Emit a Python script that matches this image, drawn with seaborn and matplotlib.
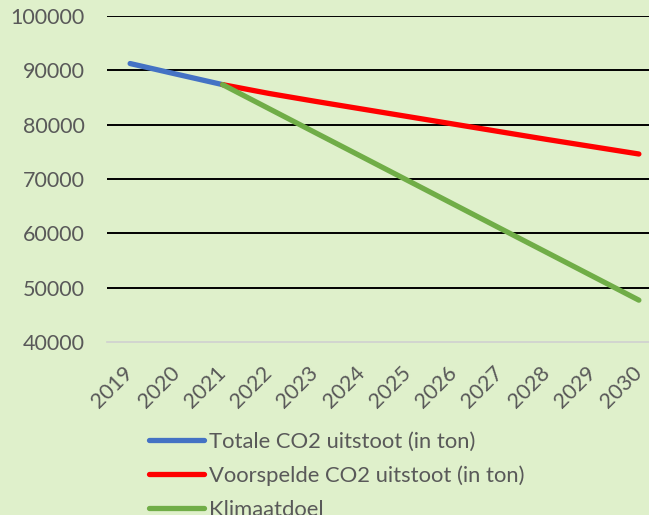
import numpy as np
import pandas as pd
import seaborn as sns
import matplotlib.pyplot as plt

years = list(range(2019, 2031))
totale = [91250, 89300, 87370] + [np.nan] * 9
voorspeld = [np.nan, np.nan, 87370, 85750, 84300, 82900, 81500, 80100, 78700, 77300, 75950, 74600]
klimaatdoel = [np.nan, np.nan, 87370, 82960, 78550, 74150, 69740, 65330, 60920, 56520, 52110, 47700]

labels = ['Totale CO2 uitstoot (in ton)', 'Voorspelde CO2 uitstoot (in ton)', 'Klimaatdoel']
colors = ['#4472C4', '#FF0000', '#70AD47']

df = pd.DataFrame({'Jaar': years, labels[0]: totale, labels[1]: voorspeld, labels[2]: klimaatdoel})

bg = '#DFF0CB'
txt = '#595959'
sns.set_style('white')
plt.rcParams['font.family'] = ['Lato', 'DejaVu Sans']

fig = plt.figure(figsize=(6.49, 5.15), dpi=100, facecolor=bg)
ax = fig.add_axes([107 / 649, 1 - 342 / 515, 555 / 649, 326 / 515])
ax.set_facecolor(bg)

for lab, col in zip(labels, colors):
    sub = df[['Jaar', lab]].dropna()
    sns.lineplot(data=sub, x='Jaar', y=lab, color=col, linewidth=3.8, label=lab,
                 solid_capstyle='round', ax=ax)

ax.set_xlim(2018.5, 2030.5)
ax.set_ylim(40000, 100000)
ax.set_xticks(years)
ax.set_xticklabels([str(y) for y in years], rotation=45, ha='right', va='center',
                   rotation_mode='anchor')
ax.set_yticks(range(40000, 100001, 10000))
ax.tick_params(axis='both', colors=txt, labelsize=15.5, length=0)
ax.tick_params(axis='x', pad=20)
ax.tick_params(axis='y', pad=16)
ax.set_xlabel('')
ax.set_ylabel('')

ax.yaxis.grid(True, color='black', linewidth=1.4)
ax.get_ygridlines()[0].set_visible(False)
ax.set_axisbelow(True)
for s in ['top', 'right', 'left']:
    ax.spines[s].set_visible(False)
ax.spines['bottom'].set_color('#D0D0D0')
ax.spines['bottom'].set_linewidth(1.2)

ax.get_legend().remove()
handles = ax.get_lines()[:3]
fig.legend(handles, labels, loc='upper left', bbox_to_anchor=(140 / 649, 1 - 423 / 515),
           frameon=False, fontsize=15.8, labelcolor=txt, handlelength=2.5,
           handletextpad=0.23, labelspacing=0.62, borderaxespad=0)

fig.savefig('out.png', dpi=100, facecolor=bg)
